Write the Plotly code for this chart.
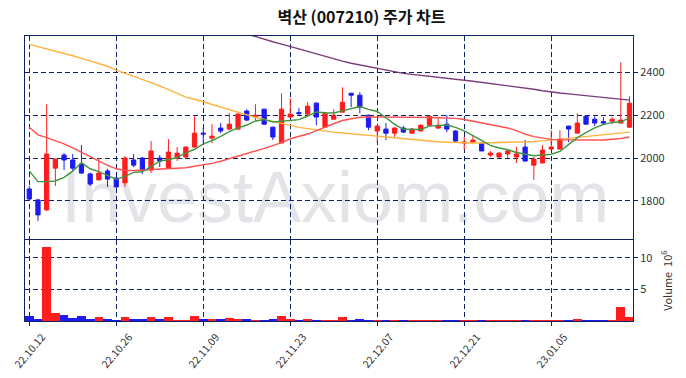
import plotly.graph_objects as go

dates = [
    "2022-10-12", "2022-10-13", "2022-10-14", "2022-10-17", "2022-10-18", "2022-10-19", "2022-10-20",
    "2022-10-21", "2022-10-24", "2022-10-25", "2022-10-26", "2022-10-27", "2022-10-28", "2022-10-31",
    "2022-11-01", "2022-11-02", "2022-11-03", "2022-11-04", "2022-11-07", "2022-11-08", "2022-11-09",
    "2022-11-10", "2022-11-11", "2022-11-14", "2022-11-15", "2022-11-16", "2022-11-17", "2022-11-18",
    "2022-11-21", "2022-11-22", "2022-11-23", "2022-11-24", "2022-11-25", "2022-11-28", "2022-11-29",
    "2022-11-30", "2022-12-01", "2022-12-02", "2022-12-05", "2022-12-06", "2022-12-07", "2022-12-08",
    "2022-12-09", "2022-12-12", "2022-12-13", "2022-12-14", "2022-12-15", "2022-12-16", "2022-12-19",
    "2022-12-20", "2022-12-21", "2022-12-22", "2022-12-23", "2022-12-26", "2022-12-27", "2022-12-28",
    "2022-12-29", "2023-01-02", "2023-01-03", "2023-01-04", "2023-01-05", "2023-01-06", "2023-01-09",
    "2023-01-10", "2023-01-11", "2023-01-12", "2023-01-13", "2023-01-16", "2023-01-17", "2023-01-18",
]

opens = [
    1856, 1805, 1758, 1953, 2014, 1991, 1972, 1926, 1898, 1940,
    1907, 1884, 1991, 2000, 1944, 2000, 1953, 2000, 2005, 2051,
    2116, 2093, 2140, 2135, 2135, 2219, 2191, 2228, 2144, 2070,
    2191, 2212, 2205, 2256, 2144, 2181, 2214, 2302, 2293, 2200,
    2126, 2135, 2116, 2140, 2116, 2126, 2153, 2140, 2158, 2126,
    2070, 2074, 2070, 2014, 2005, 2019, 2005, 2051, 1967, 1977,
    2042, 2042, 2149, 2116, 2195, 2181, 2170, 2172, 2163, 2144,
]
highs = [
    1870, 1810, 2251, 1998, 2023, 2019, 2060, 1932, 2000, 1950,
    1912, 2009, 2019, 2005, 2079, 2014, 2088, 2051, 2055, 2195,
    2140, 2158, 2163, 2209, 2209, 2228, 2251, 2230, 2146, 2302,
    2279, 2233, 2260, 2260, 2212, 2228, 2330, 2304, 2307, 2202,
    2153, 2163, 2144, 2149, 2140, 2158, 2200, 2191, 2200, 2130,
    2098, 2107, 2072, 2033, 2028, 2042, 2051, 2084, 2005, 2060,
    2130, 2130, 2151, 2209, 2200, 2195, 2191, 2191, 2447, 2288,
]
lows = [
    1800, 1707, 1755, 1870, 1944, 1940, 1926, 1870, 1898, 1865,
    1862, 1865, 1958, 1926, 1930, 1958, 1950, 1986, 2000, 2051,
    2070, 2070, 2116, 2130, 2130, 2172, 2177, 2155, 2084, 2070,
    2186, 2195, 2200, 2153, 2140, 2181, 2214, 2237, 2209, 2130,
    2070, 2084, 2098, 2116, 2116, 2126, 2150, 2135, 2121, 2075,
    2037, 2070, 2033, 2005, 2000, 2000, 1977, 1984, 1898, 1977,
    2037, 2040, 2074, 2116, 2156, 2149, 2156, 2158, 2163, 2140,
]
closes = [
    1809, 1735, 2019, 1995, 1991, 1953, 1930, 1879, 1930, 1902,
    1865, 2000, 1967, 1944, 2033, 1986, 2028, 2023, 2051, 2116,
    2112, 2102, 2126, 2158, 2205, 2177, 2200, 2158, 2098, 2228,
    2205, 2207, 2242, 2191, 2209, 2200, 2260, 2293, 2237, 2144,
    2149, 2116, 2140, 2121, 2135, 2153, 2195, 2153, 2135, 2079,
    2074, 2084, 2033, 2023, 2023, 2033, 2019, 1986, 1995, 2037,
    2051, 2088, 2135, 2163, 2158, 2163, 2163, 2181, 2177, 2256,
]
volumes_m = [
    0.75, 0.27, 11.7, 1.25, 0.9, 0.43, 0.75, 0.3, 0.6, 0.3,
    0.12, 0.6, 0.3, 0.3, 0.6, 0.3, 0.6, 0.12, 0.12, 0.75,
    0.3, 0.3, 0.3, 0.45, 0.3, 0.3, 0.12, 0.12, 0.3, 0.75,
    0.3, 0.12, 0.3, 0.12, 0.12, 0.12, 0.65, 0.12, 0.27, 0.12,
    0.1, 0.1, 0.1, 0.1, 0.1, 0.1, 0.1, 0.1, 0.1, 0.1,
    0.1, 0.1, 0.1, 0.1, 0.1, 0.1, 0.1, 0.1, 0.1, 0.1,
    0.1, 0.1, 0.1, 0.27, 0.12, 0.1, 0.1, 0.1, 2.25, 0.65,
]
ma5 = [
    1940, 1890, 1890, 1893, 1910, 1939, 1978, 1950, 1937, 1919,
    1901, 1915, 1933, 1936, 1962, 1986, 1992, 2003, 2024, 2041,
    2066, 2081, 2101, 2123, 2141, 2154, 2173, 2180, 2168, 2172,
    2178, 2179, 2196, 2215, 2211, 2210, 2220, 2231, 2240, 2227,
    2217, 2188, 2157, 2134, 2132, 2133, 2149, 2151, 2154, 2143,
    2127, 2105, 2081, 2059, 2047, 2039, 2026, 2017, 2011, 2014,
    2018, 2031, 2061, 2095, 2119, 2141, 2156, 2166, 2168, 2188,
]
ma20 = [
    2144, 2108, 2095, 2082, 2066, 2048, 2028, 2008, 1988, 1966,
    1950, 1942, 1942, 1944, 1946, 1946, 1948, 1950, 1955, 1962,
    1968, 1975, 1985, 1997, 2008, 2018, 2030, 2045, 2058, 2072,
    2090, 2100, 2112, 2128, 2145, 2160, 2175, 2184, 2190, 2192,
    2192, 2192, 2191, 2191, 2190, 2190, 2189, 2188, 2188, 2185,
    2180, 2172, 2165, 2158, 2150, 2140, 2128, 2112, 2100, 2092,
    2087, 2085, 2084, 2084, 2084, 2084, 2084, 2086, 2091, 2098,
]
ma60 = [
    2530, 2520, 2508, 2498, 2488, 2477, 2465, 2453, 2441, 2428,
    2410, 2396, 2382, 2368, 2352, 2336, 2318, 2300, 2284, 2274,
    2262, 2250, 2238, 2224, 2212, 2200, 2190, 2180, 2170, 2160,
    2151, 2143, 2137, 2131, 2126, 2121, 2117, 2114, 2110, 2106,
    2102, 2098, 2094, 2090, 2087, 2083, 2079, 2076, 2074, 2072,
    2070, 2070, 2070, 2071, 2072, 2072, 2073, 2075, 2077, 2080,
    2084, 2089, 2093, 2097, 2101, 2105, 2109, 2113, 2117, 2121,
]
ma120 = [
    None, None, None, None, None, None, None, None, None, None,
    None, None, None, None, None, None, None, None, None, None,
    None, None, None, None, 2591, 2578, 2565, 2553, 2542, 2531,
    2521, 2509, 2497, 2485, 2474, 2463, 2452, 2442, 2434, 2426,
    2418, 2410, 2402, 2395, 2390, 2386, 2381, 2377, 2372, 2368,
    2363, 2358, 2353, 2348, 2343, 2338, 2333, 2327, 2321, 2314,
    2307, 2303, 2299, 2295, 2291, 2286, 2282, 2278, 2274, 2270,
]
tick_dates = ["2022-10-12", "2022-10-26", "2022-11-09", "2022-11-23", "2022-12-07", "2022-12-21", "2023-01-05"]
tick_labels = ["22.10.12", "22.10.26", "22.11.09", "22.11.23", "22.12.07", "22.12.21", "23.01.05"]
price_ticks = [1800, 2000, 2200, 2400]
volume_ticks = [5, 10]
volume_tick_labels = ["5", "10"]

UP = "#ff1c1c"
DOWN = "#1c1cf0"
NAVY = "#0d2366"
GRID_DASH = "5px,3px"

vol_colors = [UP if c >= o else DOWN for o, c in zip(opens, closes)]

fig = go.Figure()

fig.add_trace(go.Candlestick(
    x=dates, open=opens, high=highs, low=lows, close=closes,
    increasing=dict(line=dict(color=UP, width=1), fillcolor=UP),
    decreasing=dict(line=dict(color=DOWN, width=1), fillcolor=DOWN),
    whiskerwidth=0, xaxis="x", yaxis="y", showlegend=False,
))
for vals, col in [(ma120, "#7b3b7b"), (ma60, "#ffb23c"), (ma20, "#ff5050"), (ma5, "#3d963d")]:
    fig.add_trace(go.Scatter(x=dates, y=vals, mode="lines", line=dict(color=col, width=1.4),
                             xaxis="x", yaxis="y", showlegend=False, hoverinfo="skip"))

fig.add_trace(go.Bar(x=dates, y=volumes_m, marker=dict(color=vol_colors, line=dict(width=0)),
                     xaxis="x2", yaxis="y2", showlegend=False))

common_x = dict(
    type="category", range=[-0.49, 69.4], tickvals=tick_dates, automargin=False,
    showgrid=True, gridcolor=NAVY, griddash=GRID_DASH, gridwidth=1,
    showline=True, linecolor=NAVY, linewidth=1, mirror=True, zeroline=False,
)
common_y = dict(
    side="right", automargin=False,
    showgrid=True, gridcolor=NAVY, griddash=GRID_DASH, gridwidth=1,
    showline=True, linecolor=NAVY, linewidth=1, mirror=True, zeroline=False,
    ticks="outside", ticklen=4, tickcolor=NAVY, tickfont=dict(size=11, color="#333333"),
)

# rotated date labels centred under their ticks
date_annotations = [
    dict(x=d, y=0, xref="x2", yref="paper", text=t, showarrow=False, textangle=-50,
         xanchor="center", yanchor="top", yshift=-6,
         font=dict(size=10.5, color="#333333", family="Noto Sans CJK KR, DejaVu Sans, sans-serif"))
    for d, t in zip(tick_dates, tick_labels)
]

fig.update_layout(
    width=686, height=378,
    margin=dict(l=25, r=53, t=36, b=57),
    paper_bgcolor="white", plot_bgcolor="white",
    font=dict(family="Noto Sans CJK KR, DejaVu Sans, sans-serif", size=11, color="#333333"),
    title=dict(text="벽산 (007210) 주가 차트", x=0.527, xanchor="center", y=0.953, yanchor="middle",
               font=dict(size=16, color="#111111", family="Noto Sans CJK KR, sans-serif", weight="bold")),
    xaxis=dict(**common_x, domain=[0, 1], anchor="y", showticklabels=False, ticks="",
               rangeslider=dict(visible=False), matches="x2"),
    xaxis2=dict(**common_x, domain=[0, 1], anchor="y2", showticklabels=False,
                ticks="outside", ticklen=4, tickcolor=NAVY),
    yaxis=dict(**common_y, domain=[0.288, 1], range=[1623, 2569], tickvals=price_ticks),
    yaxis2=dict(**common_y, domain=[0, 0.284], range=[0, 12.8], tickvals=volume_ticks,
                ticktext=volume_tick_labels,
                title=dict(text="Volume  10<sup>6</sup>", font=dict(size=11, color="#333333"), standoff=12)),
    bargap=0,
    annotations=date_annotations,
    shapes=[dict(
        type="rect", xref="x domain", yref="y domain", x0=0.03, x1=0.99, y0=0.0, y1=0.48,
        line=dict(width=0), fillcolor="rgba(0,0,0,0)", layer="below",
        label=dict(text="InvestAxiom.com", textposition="middle center",
                   font=dict(size=72, color="#e4e4e8", family="Liberation Sans, Arial, sans-serif")),
    )],
)

fig.write_html("out.html", config={"displayModeBar": False},
               post_script="document.body.style.margin='0px';")
